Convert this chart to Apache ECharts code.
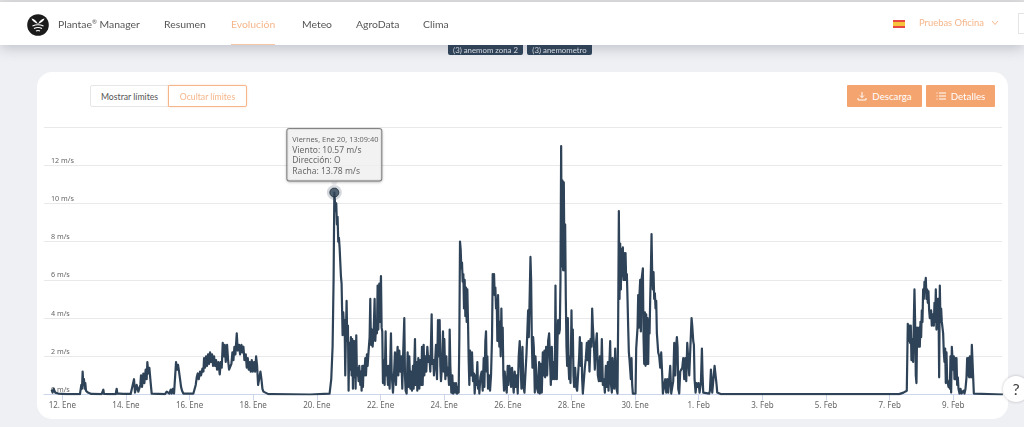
<!DOCTYPE html>
<html lang="es">
<head>
<meta charset="utf-8">
<title>Plantae Manager - Evolución</title>
<script src="https://cdn.jsdelivr.net/npm/echarts@6/dist/echarts.min.js"></script>
<style>
html,body{margin:0;padding:0;width:1024px;height:427px;overflow:hidden;background:#eff0f4;font-family:"Lato","Noto Sans",sans-serif;color:#444}
.abs{position:absolute;white-space:nowrap}
#topline{left:0;top:0;width:1024px;height:2px;background:#e2e2e2}
#nav{left:0;top:2px;width:1024px;height:43px;background:#fff;box-shadow:0 3px 14px rgba(60,70,90,.28);z-index:3}
.item{top:17px;font-size:10.4px;line-height:14px;color:#555;z-index:4}
.active{color:#f6b68b}
#under{left:231px;top:44px;width:44px;height:1px;background:#f8c8a6;z-index:4}
.tag{top:42px;height:13px;background:#2f4358;color:#dfe4ea;font-size:7.8px;line-height:16px;text-align:center;border-radius:2px;z-index:2}
#card{left:37px;top:72px;width:971px;height:347px;background:#fff;border-radius:15px}
.seg{top:85px;height:22px;line-height:21px;font-size:8.7px;text-align:center;box-sizing:border-box;background:#fff;z-index:2}
.btn{top:85px;height:22px;line-height:22px;font-size:9.7px;text-align:center;background:#f4a46f;color:#fff;border-radius:1px;z-index:2}
#chart{left:0;top:0;width:1024px;height:427px;z-index:1}
#help{left:1003px;top:376px;width:26px;height:26px;border-radius:50%;background:#fff;box-shadow:0 0 3px rgba(0,0,0,.25);font-size:16px;line-height:26px;text-align:center;color:#444;z-index:5}
#side{left:1018px;top:13px;width:10px;height:21px;border:1px solid #e4e4e4;box-sizing:border-box;z-index:4}
</style>
</head>
<body>
<div class="abs" id="topline"></div>
<div class="abs tag" style="left:448px;width:75px">(3) anemom zona 2</div>
<div class="abs tag" style="left:527px;width:65px">(3) anemometro</div>
<div class="abs" id="nav"></div>
<svg class="abs" style="left:27px;top:14px;z-index:4" width="22" height="22" viewBox="0 0 22 22">
  <circle cx="11" cy="11" r="10.8" fill="#1b1b1b"/>
  <path d="M11 10 C8 9 5 7 4.500 4.500 C7 5 9 6 11 10 C13 6 15 5 17.500 4.500 C17 7 14 9 11 10Z" fill="#fff"/>
  <path d="M5.500 12 Q11 9.500 16.500 12 M7 14.500 Q11 12.500 15 14.500 M9 17 Q11 16 13 17" stroke="#fff" stroke-width="1.200" fill="none"/>
</svg>
<div class="abs item" style="left:58px">Plantae<sup style="font-size:6px;line-height:0">®</sup> Manager</div>
<div class="abs item" style="left:164px">Resumen</div>
<div class="abs item active" style="left:231px">Evolución</div>
<div class="abs item" style="left:302px">Meteo</div>
<div class="abs item" style="left:356px">AgroData</div>
<div class="abs item" style="left:423px">Clima</div>
<div class="abs" id="under"></div>
<svg class="abs" style="left:893px;top:20px;z-index:4" width="12" height="8"><rect width="12" height="8" fill="#e8483f"/><rect y="2" width="12" height="4" fill="#f7c33c"/></svg>
<div class="abs item active" style="left:919px;top:16px;font-size:9.4px">Pruebas Oficina</div>
<svg class="abs" style="left:991px;top:20px;z-index:4" width="8" height="6"><path d="M1 1 L4 4.500 L7 1" stroke="#f6b68b" fill="none"/></svg>
<div class="abs" id="side"></div>
<div class="abs" id="card"></div>
<div class="abs seg" style="left:90px;width:79px;border:1px solid #e6e6e6;color:#555;border-radius:2px 0 0 2px">Mostrar límites</div>
<div class="abs seg" style="left:168px;width:79px;border:1px solid #f6b68b;color:#f6b68b;box-shadow:0 0 2px #fbd9c2;border-radius:0 2px 2px 0">Ocultar límites</div>
<div class="abs btn" style="left:847px;width:75px">
  <svg width="10" height="10" style="vertical-align:-1px;margin-right:5px"><path d="M5 1V6.500M3 4.500L5 6.500L7 4.500M1 7V9H9V7" stroke="#fff" fill="none"/></svg>Descarga</div>
<div class="abs btn" style="left:926px;width:69px">
  <svg width="10" height="10" style="vertical-align:-1px;margin-right:5px"><path d="M3 2H10M3 5H10M3 8H10M0.500 2H1.500M0.500 5H1.500M0.500 8H1.500" stroke="#fff" fill="none"/></svg>Detalles</div>
<div class="abs" id="chart"></div>
<div class="abs" id="help">?</div>
<script>
// Wind speed in m/s. Each run lists [sample offset, speed] from its own start day;
// samples are about 15 minutes apart and days are counted from 12 Jan.
const sampleDays = 1 / 95.4;

const runA = [[65,.25],[68,.1],[71,.3],[76,.1],[85,.05],[110,.02],[150,.02],[152,.1],[154,.5],[156,.3],[158,1.2],[160,.5],[162,.8],[164,.3],[166,.6],[168,.2],[171,.3],[174,.1],[178,.15],[184,.03],[215,.02],[218,.05],[220,.25],[222,.03],[238,.02],[240,.12],[242,.03],[257,.02],[260,.3],[262,.05],[268,.05],[280,.03],[302,.03],
[305,.1],[312,.8],[315,.1],[320,.5],[325,.15],[331,.5],[333,1],[336,.4],[340,1.1],[343,.6],[347,1.3],[350,.8],[352,1.7],[355,1.1],[358,1.4],[362,.6],[365,.05],[405,.02],
[410,.15],[412,.05],[414,.2],[418,.05],[422,.25],[425,.05],[428,.3],[432,.05],[435,.1],[438,1.7],[441,1.3],[444,1.55],[447,1.2],[450,.8],[453,.4],[456,.2],[460,.05],[490,.05],
[497,.5],[500,.9],[503,1.1],[506,.8],[510,1.2],[513,1],[517,1.35],[520,1.2],[522,1.9],[525,1.4],[528,2],[531,1.5],[534,2.1],[537,1.6],[540,2.2],[543,1.7],[546,2.1],[549,1.5],[552,2],[555,1.5],[558,1.8],[561,1.3],[565,1.7],[569,1.05],[572,1.7],[575,1.4],[578,2.7],[581,2],[584,2.6],[587,1.7],[591,2.6],[594,1.8],[597,1.3],[601,1.2],[604,1.6],[607,2.2],[610,1.8],[613,2.5],[616,2.1],[620,3.2],[623,2.3],[627,2.6],[630,2.1],[634,2.6],[637,2.2],[640,2.5],[643,1.8],[647,2.1],[650,1.4],[653,1.9],[656,1.3],[659,1.7],[662,1.2],[665,1.8],[668,1.2],[672,1.7],[675,1.2],[678,2],[681,1.5],[684,.5],[688,.45],[691,1.2],[694,.8],[697,.3],[700,.15],[705,.05],[715,.02],[728,.02],[730,.1],[733,.02],[840,0]];
const runAStart = -97 / 95.4;

const runB = [[28,.05],[33,.8],[37,2.5],[40,6],[42.2,10.57],[46,9.6],[48,10],[50,8.9],[52,9.3],[54,8],[56,8.2],[58,7.7],[60,7.6],[62,6.2],[64,5.8],[66,5.7],[67,3.1],[69,4.3],[71,3.5],[73,3.9],[75,1],[77,3.2],[79,4.9],[81,2.8],[83,3.6],[85,.2],[87,2.7],[90,1.3],[92,3],[94,1],[96,2.9],[98,.3],[100,2.8],[102,.9],[104,2.8],[106,.3],[108,3.1],[110,1],[112,1.4],[115,.7],[117,1.5],[120,.5],[122,1.2],[124,.2],[126,1.5],[128,.4],[130,1.5],[132,1],[135,1.9],[137,1],[140,2.1],[142,1.5],[145,2.3],[148,3],[150,5],[152,2.6],[155,3.4],[157,2.5],[160,3.2],[163,5],[165,2.8],[168,3.8],[170,3.2],[172,5.7],[174,3.4],[177,5.8],[179,3.8],[182,6.2],[184,3.5],[186,3.3],[188,.6],[190,1.8],[193,.5],[196,3.3],[198,1],[200,1.5],[203,.5],[205,1.5],[208,.3],[212,3.2],[214,1.2],[216,.6],[218,.1],[221,1],[224,2.2],[227,.5],[230,2],[232,2.5],[234,1],[237,2.3],[240,1.2],[243,2],[246,.3],[248,1.8],[252,4],[254,1],[256,.2],[259,.05],[262,2.2],[264,.4],[267,2],[270,.3],[272,1.2],[275,.2],[278,1.5],[280,.3],[284,2.9],[286,.5],[289,1.7],[291,.2],[294,1.9],[297,.3],[300,1.8],[303,.5],[305,2.5],[307,.5],[310,2.6],[312,1],[315,2],[318,1.2],[321,2.5],[324,1.7],[327,2],[330,1.2],[334,4.2],[336,1.6],[339,1.8],[341,1],[344,1.6],[347,2.6],[350,.8],[353,3.9],[355,2],[358,3.9],[360,1.5],[362,.7],[365,1.5],[368,3.3],[370,1.2],[372,2.9],[375,.8],[378,2],[380,1],[383,1.4],[386,.5],[388,3.4],[390,1.5],[393,.1],[396,1],[398,.05],[401,.6],[404,.1],[407,.6],[410,.05],[413,.4],[415,.1],[417,3],[419,8],[421,7.6],[423,6.6],[425,6.9],[427,5.9],[429,6.3],[431,4.5],[433,6],[435,4.1],[437,5.6],[439,3.8],[441,5.5],[443,3.8],[445,1.8],[447,.5],[449,2.3],[452,1],[455,2.2],[458,.7],[461,1.1],[463,.05],[466,1],[468,.5],[471,1.7],[473,.3],[475,.7],[477,.05],[480,.9],[484,1.2],[487,.2],[490,1.9],[492,.4],[495,2.8],[497,3.3],[499,1.2],[501,2],[503,.3],[506,1],[509,.2],[512,1],[515,3],[517,6.3],[519,5.8],[521,6.3],[523,5.2],[525,5.6],[527,4.5],[529,5],[531,2.8],[533,5.2],[535,3.5],[537,2.5],[539,3.8],[541,2],[543,4.5],[545,2.5],[547,3.5],[549,1],[551,.2],[553,1.2],[556,.5],[559,.1],[562,1.5],[564,.5],[567,1.5],[570,1.2],[572,.4],[575,1.4],[578,.5],[580,.1],[583,1.2],[586,.4],[589,1],[592,.05],[595,2],[598,2.8]];
const runBStart = 8.106;

const runC = [[33,.3],[36,2.5],[39,.4],[42,.1],[45,.05],[48,2.1],[50,3],[53,4.4],[55,3],[57,4.6],[60,7.2],[62,6],[64,3],[66,1.4],[68,3],[70,2.5],[73,.1],[75,2],[78,2.1],[80,.3],[83,.1],[86,1.7],[88,.05],[91,1.6],[94,.1],[97,2.2],[100,1],[102,2.3],[104,.9],[107,2.5],[110,1],[113,2.8],[116,3.2],[119,3.1],[121,.5],[124,2.5],[127,.8],[130,1.7],[133,.8],[135,5.7],[137,1.5],[139,.8],[141,2.8],[143,3.9],[146,3.2],[148,3.4],[150,6],[152,13],[154,6.7],[156,11.2],[158,6.5],[160,11.1],[162,6.5],[164,8.9],[166,5],[168,2.5],[170,1.5],[172,4],[174,1.6],[176,.8],[178,2],[180,.6],[183,4.4],[185,2],[187,3.4],[189,1],[191,.4],[194,1.4],[197,.4],[200,.2],[203,.1],[206,2],[208,3],[210,1.5],[213,2.7],[215,.8],[217,.05],[220,.05],[223,1.4],[226,1.9],[229,2.7],[231,1.8],[234,2.8],[237,1.2],[240,2.9],[243,2.5],[245,4.5],[247,3.6],[250,2.7],[253,1.3],[256,2.6],[259,3.2],[262,1],[265,.7],[268,2],[271,.7],[274,2.9],[277,.5],[280,.8],[283,.1],[286,1.5],[289,.4],[292,1.7],[294,.2],[297,1.8],[299,2.8],[301,.6],[304,.1],[306,1.9],[309,2],[311,.3],[314,2.4],[316,2.4],[318,.3],[321,.05],[323,4],[325,9.6],[327,5],[329,7.9],[331,5.5],[333,7.6],[335,6.2],[337,7.7],[339,6],[341,7.4],[343,6],[345,7.4],[347,6],[349,6.3],[351,5],[353,3.5],[355,2.2],[357,1.8],[359,1.9],[361,.8],[363,1.9],[365,.5],[367,.05],[375,.05],[377,2.4],[379,2.4],[381,3.5],[383,5.2],[385,3.5],[387,5.3],[389,6],[391,3.3],[393,6],[395,6.3],[397,6.6],[399,3],[401,1.6],[403,4.3],[405,1.5],[407,4.2],[409,1.6],[411,4],[413,1.6],[415,3.9],[417,3.2],[419,5],[421,6.5],[423,8.4],[425,6.3],[427,5.5],[429,6.4],[431,5],[433,5.3],[435,4.5],[437,4.9],[439,3.2],[441,3.3],[443,2.2],[446,2],[449,1.4],[452,2.2],[455,1],[457,.05],[461,.05],[464,.8],[467,.1],[470,.8],[473,.1],[476,.2],[479,1.5],[482,.05],[485,.05],[488,.7],[491,2.7],[494,1],[497,2.6],[499,3],[501,2.5],[503,.3],[506,.05],[509,1.2],[512,1.3],[515,1.4],[518,1.9],[521,.8],[524,1.9],[527,.7],[530,2.7],[533,2.8],[536,1],[539,.9],[541,1],[543,4],[545,3.6],[548,2.8],[550,2.6],[552,.8],[555,.1],[558,.6],[561,.4],[564,.6],[567,.1],[571,.6],[574,2.4],[576,1],[578,.1],[581,.05],[596,.05],[598,.2],[601,1.3],[603,1.3],[605,.1],[610,.1],[612,1.5],[616,1.5],[618,.5],[620,.1],[625,.02]];
const runCStart = 14.083;

const runD = [[0,.02],[535,.02],[540,.05],[548,.1],[558,.2],[561,3.7],[564,2.8],[566,3.6],[568,2.7],[570,3.6],[572,1.8],[575,2.9],[577,1.7],[579,3.8],[581,5.5],[583,3.8],[585,1],[587,.6],[589,3.5],[591,3.1],[593,2.5],[595,3.5],[597,2.5],[599,3.8],[601,3],[603,4.4],[605,3.8],[607,5.5],[609,5],[611,5.9],[613,5.7],[615,6.1],[617,5],[619,5.5],[621,4.8],[623,5.4],[625,4.4],[627,4],[629,3.9],[631,4.4],[633,3.6],[635,4],[637,4.2],[639,3.6],[641,4.8],[643,3.8],[645,5.5],[647,3.4],[649,5],[651,3.9],[653,5],[655,.9],[657,5.7],[659,3.8],[661,4.5],[663,3.8],[665,3.8],[667,3.2],[669,2.2],[671,1.7],[673,2.4],[675,.6],[677,2.2],[679,.8],[681,.9],[683,.4],[685,.7],[687,.3],[689,2],[691,.1],[693,2.5],[695,2.4],[697,1.3],[699,2],[701,.8],[703,1.9],[705,.8],[707,1.9],[709,.5],[711,.9],[713,.3],[716,.05],[719,.3],[722,.05],[725,.05],[728,.2],[731,.05],[734,.3],[737,.9],[739,1.9],[741,1],[743,1.9],[745,.9],[747,2],[749,1.2],[751,.9],[753,2.6],[755,2.6],[757,2.5],[759,.05],[763,.02],[846,0]];
const runDStart = 20.689;

const tickDays = [0,2,4,6,8,10,12,14,16,18,20,22,24,26,28];
const tickLabels = ['12. Ene','14. Ene','16. Ene','18. Ene','20. Ene','22. Ene','24. Ene','26. Ene','28. Ene','30. Ene','1. Feb','3. Feb','5. Feb','7. Feb','9. Feb'];

// The reading picked out by the cursor: 20 Jan at 13:09:40, in days from 12 Jan.
const pickedDay = 8 + (13 * 3600 + 9 * 60 + 40) / 86400;
const pickedWind = 10.57;
const pickedGust = 13.78;
const pickedDirection = 'O';

const expand = (run, start) => run.map(([n, v]) => [start + n * sampleDays, v]);
const wind = [].concat(expand(runA, runAStart), expand(runB, runBStart), expand(runC, runCStart), expand(runD, runDStart));

const ink = '#2f4358';
const chart = echarts.init(document.getElementById('chart'), null, {renderer: 'canvas'});
chart.setOption({
  animation: false,
  backgroundColor: 'transparent',
  textStyle: {fontFamily: '"Noto Sans", sans-serif'},
  grid: {left: 44, right: 22, top: 127, bottom: 32.5},
  xAxis: {
    type: 'value',
    min: -0.575,
    max: 29.53,
    splitLine: {show: false},
    axisLine: {onZero: false, lineStyle: {color: '#ccd6eb', width: 1}},
    axisTick: {show: true, customValues: tickDays, length: 6, lineStyle: {color: '#ccd6eb'}},
    axisLabel: {
      customValues: tickDays,
      formatter: v => tickLabels[tickDays.indexOf(+v)] || '',
      color: '#666',
      fontSize: 8,
      margin: 7
    }
  },
  yAxis: {
    type: 'value',
    min: 0,
    max: 14,
    interval: 2,
    axisLine: {show: false},
    axisTick: {show: false},
    splitLine: {lineStyle: {color: '#e9e9ec', width: 1}},
    axisLabel: {
      inside: true,
      margin: 7,
      verticalAlign: 'bottom',
      padding: [0, 0, 1, 0],
      color: '#666',
      fontSize: 7.2,
      showMaxLabel: false,
      formatter: '{value} m/s'
    }
  },
  series: [
    {type: 'line', name: 'Viento', data: wind, showSymbol: false, lineStyle: {color: ink, width: 2.2, join: 'round'}, z: 3},
    {type: 'scatter', data: [[pickedDay, pickedWind]], symbolSize: 15, itemStyle: {color: 'rgba(47,67,88,.25)'}, z: 4},
    {type: 'scatter', data: [[pickedDay, pickedWind]], symbolSize: 9, itemStyle: {color: ink, borderColor: '#1f2d3b', borderWidth: 1}, z: 5},
    {type: 'scatter', data: [[pickedDay, pickedWind]], symbol: 'triangle', symbolRotate: 180, symbolSize: [7, 6], symbolOffset: [0, -8],
      itemStyle: {color: '#e3e5e8'}, z: 6,
      label: {
        show: true,
        position: 'top',
        distance: 1,
        align: 'center',
        backgroundColor: '#fbfbfb',
        borderColor: '#6d6d6d',
        borderWidth: 1,
        borderRadius: 2,
        shadowColor: 'rgba(0,0,0,.25)',
        shadowBlur: 3,
        shadowOffsetY: 1,
        padding: [5, 6, 4, 5],
        color: '#444',
        formatter: () => [
          '{h|Viernes, Ene 20, 13:09:40}',
          '{b|Viento: ' + pickedWind + ' m/s}',
          '{b|Dirección: ' + pickedDirection + '}',
          '{b|Racha: ' + pickedGust + ' m/s}'
        ].join('\n'),
        rich: {
          h: {fontSize: 7.4, lineHeight: 11, color: '#444', width: 83, align: 'left'},
          b: {fontSize: 8.5, lineHeight: 10.500, color: '#444', width: 83, align: 'left'}
        }
      }
    }
  ]
});
</script>
</body>
</html>
